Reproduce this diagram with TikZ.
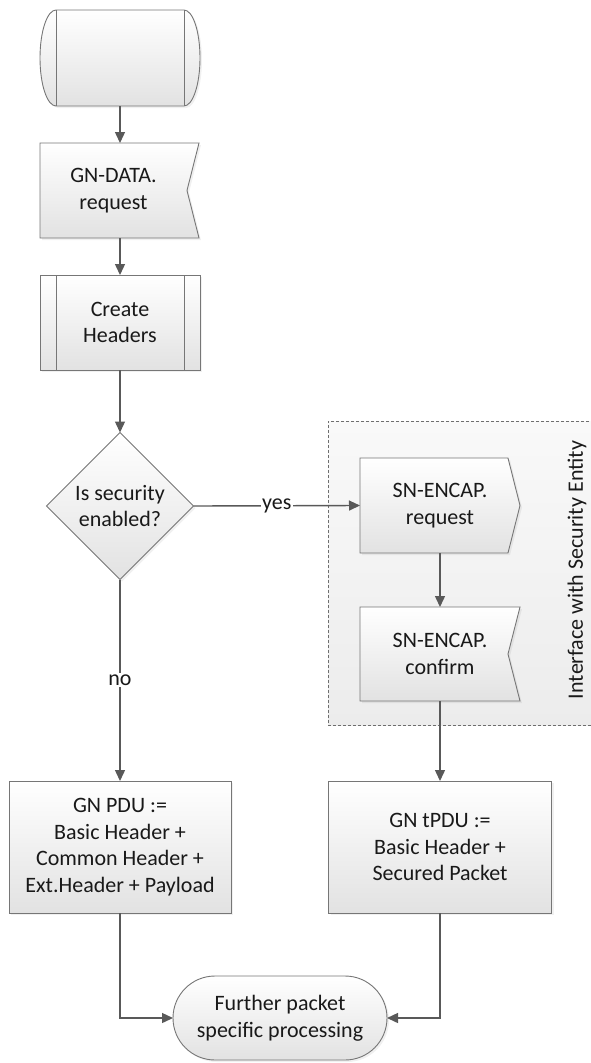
\documentclass[tikz,border=0pt]{standalone}
\usepackage{fontspec}
\setmainfont{Carlito}
\usetikzlibrary{shapes.geometric,shapes.misc,arrows.meta,backgrounds,calc,shadows}
\definecolor{edge}{RGB}{118,118,118}
\definecolor{wire}{RGB}{89,89,89}
\definecolor{ink}{RGB}{25,25,25}
\definecolor{shadeB}{RGB}{226,226,226}
\definecolor{zoneT}{RGB}{249,249,249}
\definecolor{zoneB}{RGB}{236,236,236}
\definecolor{zoneE}{RGB}{110,110,110}
\begin{document}
\begin{tikzpicture}[x=1pt,y=-1pt,
  font=\fontsize{22}{26.7}\selectfont, text=ink,
  base/.style={align=center, inner sep=0pt, outer sep=0pt},
  filled/.style={draw=edge, line width=0.9pt, top color=white, bottom color=shadeB,
    drop shadow={opacity=0.12, shadow xshift=2pt, shadow yshift=-2pt}},
  procbox/.style={base, filled, rectangle},
  flow/.style={draw=wire, line width=1.4pt, -{Triangle[length=11pt,width=10pt]}},
  tag/.style={fill=white, inner sep=1.5pt, text=ink},
  zone/.style={base, draw=zoneE, line width=0.7pt, dash pattern=on 3pt off 2pt,
    top color=zoneT, bottom color=zoneB}
]
\useasboundingbox (0,0) rectangle (590,1063);

% geometry holders and boxes
\node[base, minimum width=160, minimum height=96] (start) at (120,58) {};
\node[base, minimum width=147, minimum height=95] (gd) at (113.5,190.5) {GN-DATA.\\request};
\node[procbox, minimum width=160, minimum height=95] (ch) at (120,322.5) {Create\\Headers};
\node[base, filled, diamond, minimum width=147, minimum height=147] (dec) at (120,506) {Is security\\enabled?};
\node[base, minimum width=160, minimum height=95] (req) at (440,505.5) {SN-ENCAP.\\request};
\node[base, minimum width=160, minimum height=94] (conf) at (440,654) {SN-ENCAP.\\confirm};
\node[procbox, minimum width=222, minimum height=132] (pdu) at (120,847) {GN PDU :=\\Basic Header +\\Common Header +\\Ext.Header + Payload};
\node[procbox, minimum width=223, minimum height=132] (tpdu) at (440,847) {GN tPDU :=\\Basic Header +\\Secured Packet};
\node[base, filled, rounded rectangle, minimum width=214, minimum height=84] (term) at (280,1018) {Further packet\\specific processing};
\node[base, rotate=90] (zlabel) at (577,570) {Interface with Security Entity};

\begin{scope}[on background layer]
  % security interface group
  \node[zone, minimum width=266, minimum height=304] (zonebox) at (461,573) {};
  % start terminal with curved ends (y axis points down here)
  \path[filled] ($(start.north west)+(16,0)$) -- ($(start.north east)+(-16,0)$)
    arc[start angle=-90, end angle=90, x radius=16, y radius=48]
    -- ($(start.south west)+(16,0)$)
    arc[start angle=90, end angle=270, x radius=16, y radius=48] -- cycle;
  % GN-DATA.request: received-signal shape with notch
  \path[filled] (gd.north west) -- ($(gd.north east)+(12,0)$) -- (gd.east)
    -- ($(gd.south east)+(12,0)$) -- (gd.south west) -- cycle;
  % SN-ENCAP.request: send-signal shape
  \path[filled] (req.north west) -- ($(req.north east)+(-12,0)$) -- (req.east)
    -- ($(req.south east)+(-12,0)$) -- (req.south west) -- cycle;
  % SN-ENCAP.confirm: received-signal shape
  \path[filled] (conf.north west) -- (conf.north east) -- ($(conf.east)+(-12,0)$)
    -- (conf.south east) -- (conf.south west) -- cycle;
\end{scope}

% inner bars of terminal and predefined process
\draw[edge, line width=0.9pt] ($(start.north west)+(16,0)$) -- ($(start.south west)+(16,0)$);
\draw[edge, line width=0.9pt] ($(start.north east)+(-16,0)$) -- ($(start.south east)+(-16,0)$);
\draw[edge, line width=0.9pt] ($(ch.north west)+(16,0)$) -- ($(ch.south west)+(16,0)$);
\draw[edge, line width=0.9pt] ($(ch.north east)+(-16,0)$) -- ($(ch.south east)+(-16,0)$);

% connectors
\draw[flow] (start.south) -- (start.south |- gd.north);
\draw[flow] (gd.south -| ch.north) -- (ch.north);
\draw[flow] (ch.south) -- (dec.north);
\draw[flow] (dec.east) -- node[tag] {yes} (req.west);
\draw[flow] (dec.south) -- node[tag] {no} (pdu.north);
\draw[flow] (req.south) -- (conf.north);
\draw[flow] (conf.south) -- (tpdu.north);
\draw[flow] (pdu.south) |- (term.west);
\draw[flow] (tpdu.south) |- (term.east);
\end{tikzpicture}
\end{document}
